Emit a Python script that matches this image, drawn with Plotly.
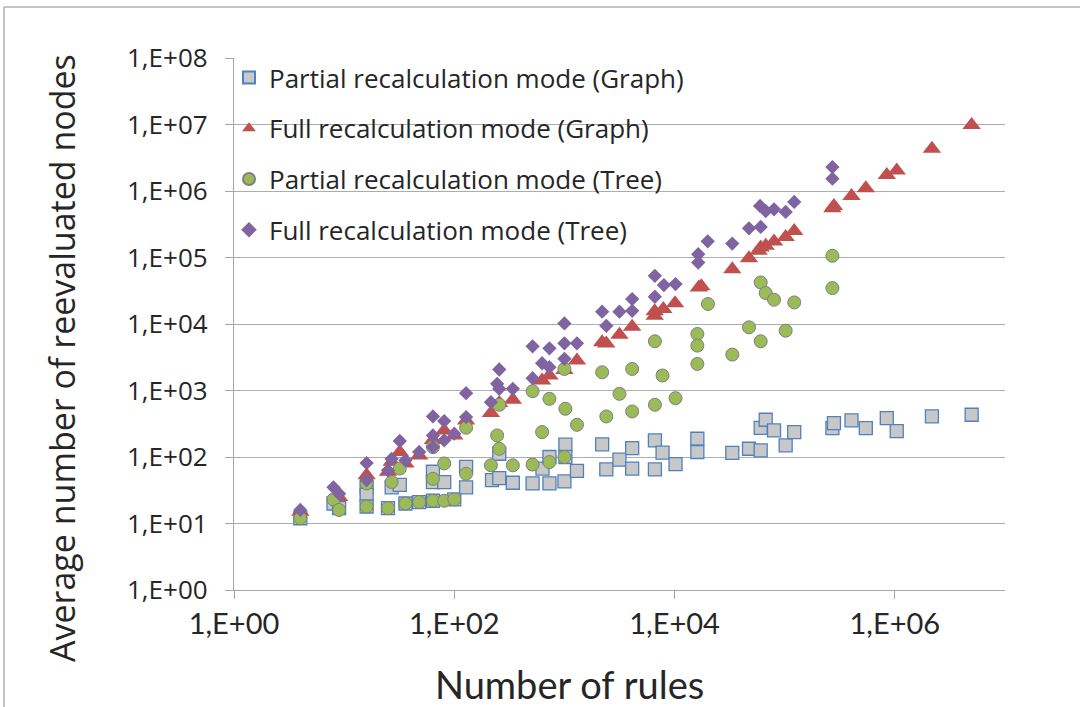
import plotly.graph_objects as go

# ---------------- data ----------------
pg_x = [4, 8, 9, 16, 16, 16, 25, 27, 32, 36, 48, 64, 64, 64, 81, 100, 128, 128,
        220, 256, 256, 340, 514, 632, 731, 731, 1000, 1020, 1020, 1300,
        2200, 2400, 3160, 4120, 4120, 6630, 6630, 7780, 10200, 16100, 16100,
        33400, 47400, 60500, 60500, 67200, 80000, 102000, 122000,
        271000, 280000, 404000, 545000, 845000, 1040000, 2170000, 4980000]
pg_y = [12, 20, 17, 35, 27, 18, 17, 35, 38, 20, 21, 60, 42, 22, 42, 23, 71, 35,
        45, 112, 48, 41, 40, 67, 40, 100, 43, 153, 100, 62,
        155, 65, 91, 136, 67, 178, 65, 116, 78, 188, 119,
        115, 133, 126, 275, 363, 251, 150, 237,
        272, 324, 355, 272, 385, 245, 407, 432]

fg_x = [4, 9, 16, 25, 27, 32, 36, 48, 64, 81, 100, 128, 215, 256, 340, 627, 731,
        1000, 1300, 2200, 2400, 3160, 4120, 6600, 6600, 7900, 10100, 16600, 17500,
        33400, 47400, 58000, 60500, 67200, 80000, 102000, 122000,
        271000, 280000, 404000, 545000, 845000, 1040000, 2170000, 4980000]
fg_y = [15, 25, 53, 60, 85, 119, 80, 105, 180, 251, 210, 355, 457, 650, 725, 1410, 1680,
        2040, 2820, 5300, 5100, 6900, 9100, 15500, 13300, 16800, 20500, 35500, 37000,
        66800, 97700, 126000, 141000, 150000, 174000, 204000, 251000,
        550000, 596000, 841000, 1100000, 1740000, 2040000, 4310000, 9800000]

pt_x = [4, 8, 9, 16, 16, 25, 27, 32, 36, 48, 64, 64, 64, 81, 81, 100, 128, 128,
        215, 245, 256, 256, 340, 514, 514, 627, 731, 731, 1000, 1000, 1020, 1300,
        2200, 2400, 3160, 4120, 4120, 6630, 6630, 7780, 10200,
        16100, 16100, 16100, 20100, 33400, 47400, 60500, 60500, 67200, 80000,
        102000, 122000, 271000, 271000]
pt_y = [12, 23, 16, 40, 18, 17, 42, 67, 20, 21, 141, 47, 22, 80, 22, 23, 276, 56,
        75, 211, 610, 133, 75, 977, 77, 237, 750, 84, 2110, 100, 531, 305,
        1880, 407, 890, 2110, 484, 5500, 610, 1680, 767,
        7080, 4730, 2510, 20000, 3470, 8910, 42200, 5500, 29200, 23200,
        7940, 21100, 106000, 34700]

ft_x = [4, 8, 9, 16, 16, 25, 27, 32, 36, 48, 64, 64, 64, 81, 81, 100, 128, 128,
        215, 245, 256, 256, 340, 514, 514, 627, 731, 731, 1000, 1000, 1000, 1300,
        2200, 2400, 3160, 4120, 4120, 6620, 6620, 8000, 10200,
        16400, 16400, 20000, 33400, 47400, 59700, 60500, 67200, 80000,
        102000, 122000, 271000, 271000]
ft_y = [16, 35, 28, 81, 45, 63, 94, 174, 89, 119, 407, 211, 141, 347, 178, 224, 910, 398,
        668, 1260, 2070, 1060, 1060, 4620, 1530, 2570, 4310, 2240, 10200, 5130, 2990, 5130,
        15300, 9400, 15300, 23700, 15800, 53100, 25700, 38500, 39800,
        112000, 84100, 175000, 162000, 275000, 596000, 288000, 500000, 531000,
        484000, 684000, 2290000, 1530000]

series_names = ["Partial recalculation mode (Graph)", "Full recalculation mode (Graph)",
                "Partial recalculation mode (Tree)", "Full recalculation mode (Tree)"]

x_tickvals = [1, 100, 10000, 1000000]
x_ticktext = ["1,E+00", "1,E+02", "1,E+04", "1,E+06"]
y_tickvals = [10 ** k for k in range(9)]
y_ticktext = ["1,E+0%d" % k for k in range(9)]

x_title = "Number of rules"
y_title = "Average number of reevaluated nodes"

# ---------------- figure ----------------
fig = go.Figure()
fig.add_trace(go.Scatter(x=pg_x, y=pg_y, mode="markers", name=series_names[0], legendgroup="a",
                         marker=dict(symbol="square", size=13, color="#C8C8C8",
                                     line=dict(color="#4F81BD", width=1.3))))
fig.add_trace(go.Scatter(x=fg_x, y=fg_y, mode="markers", name=series_names[1], legendgroup="b",
                         marker=dict(symbol="triangle-up", size=16, color="#C0504D",
                                     line=dict(width=0))))
fig.add_trace(go.Scatter(x=pt_x, y=pt_y, mode="markers", name=series_names[2], legendgroup="c",
                         marker=dict(symbol="circle", size=13, color="#9BBB59",
                                     line=dict(color="#7F7F7F", width=1))))
fig.add_trace(go.Scatter(x=ft_x, y=ft_y, mode="markers", name=series_names[3], legendgroup="d",
                         marker=dict(symbol="diamond", size=11, color="#8064A2",
                                     line=dict(width=0))))

L, R, T, B = 234, 1005, 58, 590
W, H = 1080, 707
pw, ph = R - L, B - T


def px_x(p):
    return (p - L) / pw


def px_y(p):
    return (B - p) / ph


fig.update_layout(
    width=W, height=H,
    margin=dict(l=L, r=W - R, t=T, b=H - B, pad=0),
    paper_bgcolor="white", plot_bgcolor="white",
    font=dict(family="Open Sans", color="#262626"),
    showlegend=True,
    legend=dict(x=px_x(229), y=px_y(54), xanchor="left", yanchor="top",
                bgcolor="rgba(0,0,0,0)", font=dict(size=26, family="Open Sans", color="#262626"),
                tracegroupgap=14, itemsizing="constant"),
    xaxis=dict(type="log", range=[0, 7], tickvals=x_tickvals, ticktext=x_ticktext,
               showgrid=False, zeroline=False, showline=True, linecolor="#A6A6A6", linewidth=1.3,
               ticks="outside", ticklen=8, tickcolor="#A6A6A6",
               tickfont=dict(family="Lato", size=29, color="#262626")),
    yaxis=dict(type="log", range=[0, 8], tickvals=y_tickvals, ticktext=y_ticktext,
               showgrid=True, gridcolor="#ADADAD", gridwidth=1.3, zeroline=False,
               showline=True, linecolor="#A6A6A6", linewidth=1.3,
               ticks="outside", ticklen=8, tickcolor="#A6A6A6", ticklabelstandoff=12,
               tickfont=dict(family="Open Sans", size=26, color="#262626")),
    annotations=[
        dict(text=x_title, xref="paper", yref="paper", x=px_x(569), y=px_y(684),
             xanchor="center", yanchor="middle", showarrow=False,
             font=dict(family="Lato", size=38, color="#262626")),
        dict(text=y_title, xref="paper", yref="paper", x=px_x(62), y=px_y(358),
             xanchor="center", yanchor="middle", showarrow=False, textangle=-90,
             font=dict(family="Open Sans", size=34, color="#262626")),
    ],
    shapes=[
        dict(type="line", xref="paper", yref="paper", x0=px_x(4), x1=px_x(1080), y0=px_y(7), y1=px_y(7),
             line=dict(color="#B0B0B0", width=1.5)),
        dict(type="line", xref="paper", yref="paper", x0=px_x(4), x1=px_x(4), y0=px_y(7), y1=px_y(707),
             line=dict(color="#B0B0B0", width=1.5)),
    ],
)

fig.write_html("out.html", config={"displayModeBar": False},
               post_script="document.body.style.margin='0px';document.body.style.overflow='hidden';")
